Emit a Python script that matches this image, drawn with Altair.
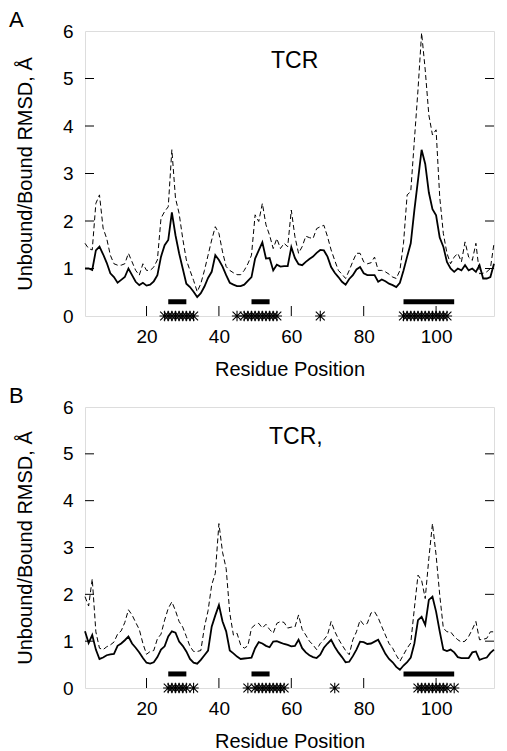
import altair as alt
import pandas as pd

# residue positions 3..116
residues = list(range(3, 117))

solid_a = [1.00, 1.00, 0.97, 1.38, 1.46, 1.30, 1.12, 0.90, 0.82, 0.70,
           0.76, 0.82, 1.00, 0.86, 0.72, 0.65, 0.70, 0.64, 0.66, 0.73,
           0.86, 1.25, 1.49, 1.60, 2.18, 1.70, 1.32, 1.00, 0.68, 0.61,
           0.51, 0.40, 0.48, 0.62, 0.80, 0.93, 1.28, 1.18, 1.04, 0.86,
           0.70, 0.66, 0.63, 0.63, 0.66, 0.74, 0.82, 1.21, 1.38, 1.55,
           1.21, 1.22, 0.96, 1.08, 1.04, 1.05, 1.05, 1.45, 1.22, 1.09,
           1.07, 1.14, 1.20, 1.25, 1.33, 1.39, 1.38, 1.25, 1.03, 0.91,
           0.82, 0.72, 0.66, 0.78, 0.86, 0.98, 1.03, 0.90, 0.86, 0.86,
           0.86, 0.72, 0.77, 0.73, 0.68, 0.65, 0.61, 0.70, 0.96, 1.25,
           1.53, 2.23, 2.86, 3.50, 3.20, 2.60, 2.25, 2.12, 1.65, 1.46,
           1.14, 1.00, 0.93, 1.00, 0.96, 1.07, 0.96, 1.00, 0.93, 1.07,
           0.79, 0.79, 0.82, 1.10]

dashed_a = [1.53, 1.42, 1.39, 2.37, 2.55, 1.85, 1.63, 1.28, 1.10, 1.07,
            1.07, 1.10, 1.32, 1.14, 0.96, 0.86, 1.10, 0.96, 0.96, 1.03,
            1.18, 2.06, 2.20, 2.30, 3.50, 2.48, 2.16, 1.63, 1.18, 0.96,
            0.75, 0.51, 0.68, 0.96, 1.28, 1.60, 1.88, 1.74, 1.35, 1.04,
            0.96, 0.91, 0.87, 0.87, 0.96, 1.10, 1.28, 2.13, 1.99, 2.37,
            1.92, 1.70, 1.42, 1.63, 1.42, 1.53, 1.46, 2.23, 1.67, 1.32,
            1.46, 1.68, 1.65, 1.63, 1.84, 1.88, 1.91, 1.67, 1.39, 1.17,
            0.96, 0.88, 0.79, 0.96, 1.15, 1.32, 1.32, 1.14, 1.10, 1.12,
            1.24, 0.96, 0.96, 0.93, 0.88, 0.82, 0.79, 0.96, 1.53, 2.55,
            2.62, 3.70, 4.76, 5.96, 5.18, 4.23, 3.81, 3.92, 2.51, 1.74,
            1.32, 1.10, 1.24, 1.32, 1.14, 1.56, 1.24, 1.17, 1.53, 0.89,
            0.90, 0.93, 1.00, 1.53]

solid_b = [1.21, 0.96, 1.13, 0.82, 0.62, 0.65, 0.70, 0.72, 0.73, 0.90,
           0.95, 1.02, 1.10, 0.95, 0.86, 0.76, 0.64, 0.54, 0.52, 0.55,
           0.66, 0.82, 0.89, 1.10, 1.21, 1.18, 0.99, 0.90, 0.78, 0.62,
           0.54, 0.52, 0.60, 0.70, 0.80, 1.31, 1.55, 1.77, 1.42, 1.21,
           0.80, 0.74, 0.67, 0.62, 0.63, 0.64, 0.65, 0.85, 0.98, 0.95,
           0.90, 0.87, 0.99, 1.00, 0.97, 0.94, 0.92, 0.89, 0.90, 1.03,
           0.85, 0.76, 0.70, 0.66, 0.64, 0.71, 0.86, 0.95, 1.03, 0.88,
           0.76, 0.66, 0.55, 0.56, 0.68, 0.82, 0.99, 0.98, 0.94, 0.95,
           0.99, 1.03, 0.88, 0.73, 0.62, 0.55, 0.45, 0.39, 0.48, 0.55,
           0.65, 0.95, 1.45, 1.52, 1.35, 1.88, 1.95, 1.63, 1.21, 0.82,
           0.79, 0.82, 0.76, 0.66, 0.64, 0.64, 0.64, 0.76, 0.78, 0.60,
           0.63, 0.65, 0.75, 0.82]

dashed_b = [1.95, 1.75, 2.33, 1.20, 0.85, 0.82, 0.88, 0.92, 0.98, 1.15,
            1.22, 1.40, 1.67, 1.56, 1.40, 1.25, 0.95, 0.72, 0.78, 0.80,
            1.05, 1.15, 1.45, 1.70, 1.84, 1.65, 1.42, 1.30, 1.10, 0.89,
            0.78, 0.78, 0.80, 1.30, 1.65, 2.20, 2.45, 3.51, 2.90, 2.55,
            1.60, 1.13, 1.17, 0.92, 0.85, 0.90, 1.28, 1.35, 1.38, 1.28,
            1.36, 1.25, 1.17, 1.38, 1.42, 1.40, 1.28, 1.30, 1.30, 1.56,
            1.25, 1.13, 1.00, 0.92, 0.82, 0.95, 1.03, 1.13, 1.42, 1.21,
            1.05, 0.92, 0.80, 0.71, 1.03, 1.20, 1.45, 1.35, 1.38, 1.60,
            1.63, 1.50, 1.31, 1.13, 0.95, 0.85, 0.70, 0.57, 0.71, 0.85,
            0.96, 1.70, 2.41, 2.30, 1.91, 2.77, 3.51, 2.84, 1.99, 1.28,
            1.20, 1.20, 1.10, 1.03, 0.98, 1.00, 1.10, 1.25, 1.42, 1.03,
            1.04, 1.06, 1.20, 1.20]

stars_a = [25, 26, 27, 28, 29, 30, 31, 32, 33,
           45, 47, 48, 49, 50, 51, 52, 53, 54, 55, 56,
           68,
           91, 92, 93, 94, 95, 96, 97, 98, 99, 100, 101, 102, 103]
stars_b = [26, 27, 28, 29, 30, 31, 33,
           48, 50, 51, 52, 53, 54, 55, 56, 57, 58,
           72,
           95, 96, 97, 98, 99, 100, 101, 102, 103, 105]

bar_start = [26, 49, 91]
bar_end = [31, 54, 105]
bar_level = [0.3, 0.3, 0.3]

x_tick_values = [20, 40, 60, 80, 100]
y_tick_values = [1, 2, 3, 4, 5]
y_label_values = [0, 1, 2, 3, 4, 5, 6]

FONT = "Liberation Sans"
W = 409
STAR = "M-1,-1L1,1M-1,1L1,-1M0,-1.15L0,1.15M-1.15,0L1.15,0"


def panel(solid, dashed, stars, letter, label, H, letter_y, label_x):
    xs = alt.Scale(domain=[3, 116], nice=False, zero=False)
    ys = alt.Scale(domain=[0, 6], nice=False, zero=False)
    xaxis = alt.Axis(values=x_tick_values, ticks=False, domain=False, grid=False,
                     labelFontSize=19, labelPadding=11, labelFont=FONT, labelColor="black",
                     title="Residue Position", titleFontSize=20, titleFont=FONT,
                     titleFontWeight="normal", titlePadding=13, titleColor="black")
    yaxis = alt.Axis(values=y_label_values, ticks=False, domain=False, grid=False,
                     labelFontSize=19, labelPadding=12, labelFont=FONT, labelColor="black",
                     title="Unbound/Bound RMSD, Å", titleFontSize=20, titleFont=FONT,
                     titleFontWeight="normal", titlePadding=27, titleColor="black")

    df = pd.DataFrame({"res": residues, "solid": solid, "dashed": dashed})
    base = alt.Chart(df)
    dashed_line = base.mark_line(color="black", strokeWidth=1, strokeDash=[5, 3]).encode(
        x=alt.X("res:Q", scale=xs, axis=xaxis),
        y=alt.Y("dashed:Q", scale=ys, axis=yaxis))
    solid_line = base.mark_line(color="black", strokeWidth=1.8).encode(
        x=alt.X("res:Q", scale=xs, axis=xaxis),
        y=alt.Y("solid:Q", scale=ys, axis=yaxis))

    bars = alt.Chart(pd.DataFrame({"s": bar_start, "e": bar_end, "v": bar_level})).mark_rule(
        color="black", strokeWidth=5, strokeCap="butt").encode(
        x=alt.X("s:Q", scale=xs, axis=xaxis), x2="e:Q",
        y=alt.Y("v:Q", scale=ys, axis=yaxis))

    star_df = pd.DataFrame({"res": stars, "v": [0] * len(stars)})
    star_marks = alt.Chart(star_df).mark_point(
        shape=STAR, size=80, filled=False, color="black", strokeWidth=1.1, opacity=1).encode(
        x=alt.X("res:Q", scale=xs, axis=xaxis),
        y=alt.Y("v:Q", scale=ys, axis=yaxis))

    xt = alt.Chart(pd.DataFrame({"t": x_tick_values})).mark_rule(color="black", strokeWidth=1).encode(
        x=alt.X("t:Q", scale=xs, axis=xaxis), y=alt.value(H), y2=alt.value(H - 10))
    ytl = alt.Chart(pd.DataFrame({"t": y_tick_values})).mark_rule(color="black", strokeWidth=1).encode(
        y=alt.Y("t:Q", scale=ys, axis=yaxis), x=alt.value(0), x2=alt.value(9))
    ytr = alt.Chart(pd.DataFrame({"t": y_tick_values})).mark_rule(color="black", strokeWidth=1).encode(
        y=alt.Y("t:Q", scale=ys, axis=yaxis), x=alt.value(W - 9), x2=alt.value(W))

    letter_txt = alt.Chart(pd.DataFrame({"t": [letter]})).mark_text(
        font=FONT, fontSize=22, align="left", baseline="alphabetic", color="black").encode(
        x=alt.value(-76), y=alt.value(letter_y), text="t:N")
    label_txt = alt.Chart(pd.DataFrame({"t": [label]})).mark_text(
        font=FONT, fontSize=23, align="left", baseline="middle", color="black").encode(
        x=alt.value(label_x), y=alt.value(30), text="t:N")

    return alt.layer(dashed_line, solid_line, bars, star_marks, xt, ytl, ytr,
                     letter_txt, label_txt).properties(width=W, height=H)


top = panel(solid_a, dashed_a, stars_a, "A", "TCR", 285, -4, 186)
bottom = panel(solid_b, dashed_b, stars_b, "B", "TCR,", 281, -4, 184)

chart = alt.vconcat(top, bottom, spacing=4).properties(
    padding={"left": 0, "top": 0, "right": 0, "bottom": 0}
).configure_view(stroke="black", strokeWidth=1).configure(background="white")

chart.save("out.html", embed_options={"renderer": "svg", "actions": False})
